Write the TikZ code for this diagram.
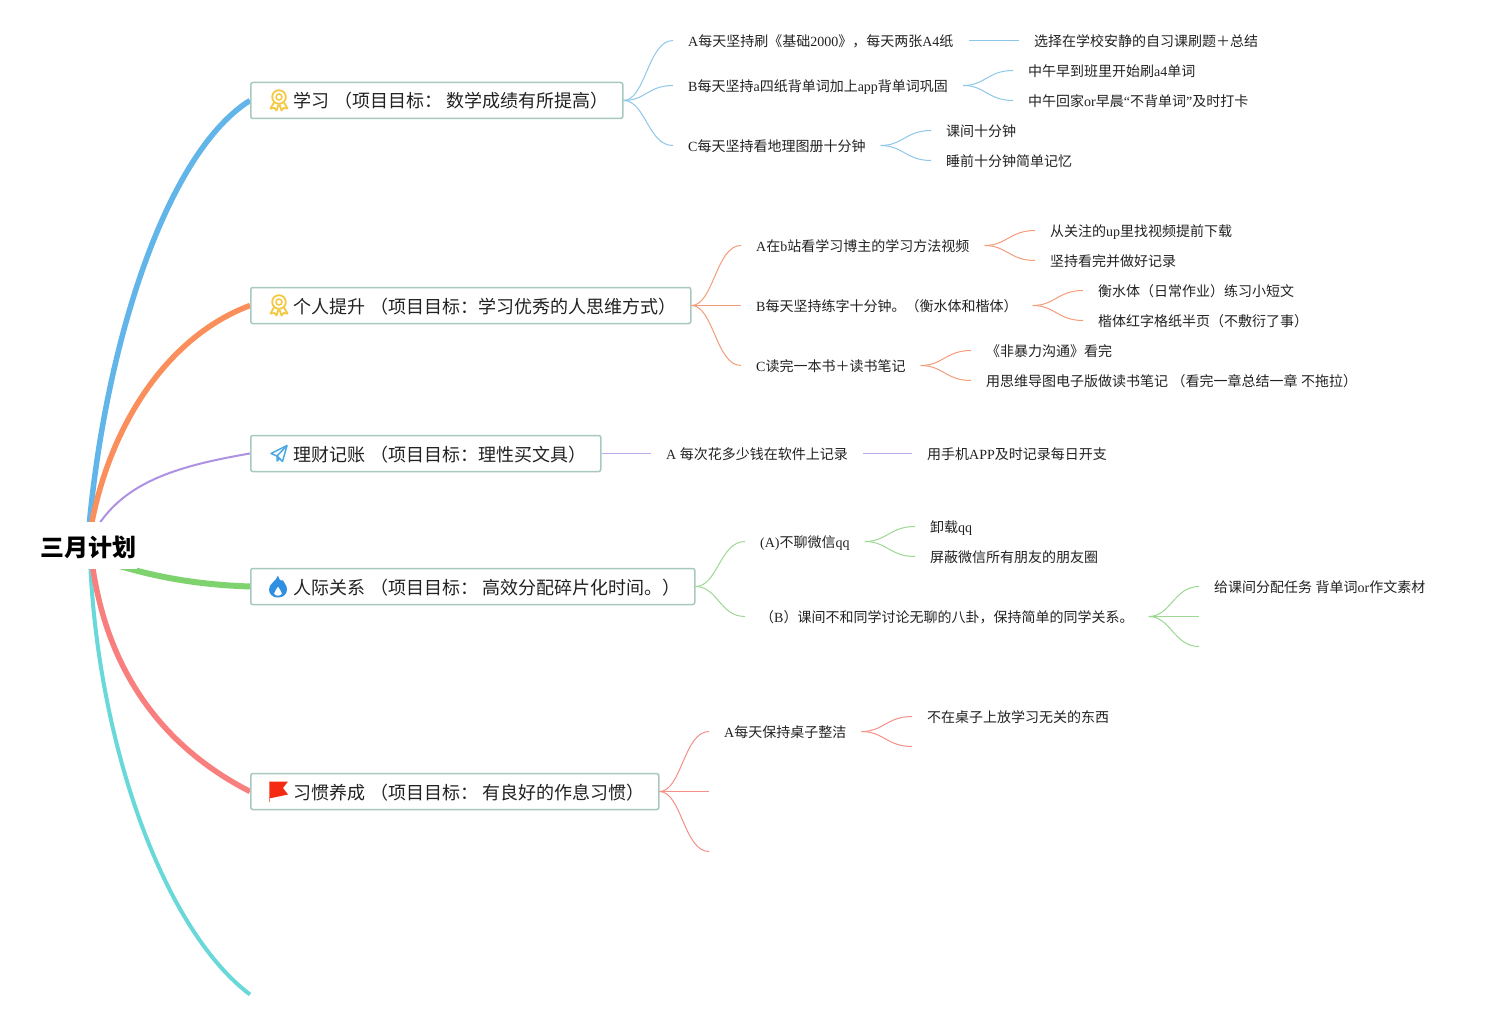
\documentclass[tikz,border=0pt]{standalone}
\usepackage{fontspec}
\usetikzlibrary{backgrounds}
\setmainfont{Liberation Serif}
\newfontfamily\zhf{Noto Sans CJK SC}
\newcommand\zh[1]{{\zhf #1}}
\newcommand\mainlab[2]{\makebox[#1pt][l]{\hspace{43pt}#2}}
\definecolor{cblue}{HTML}{62B5E8}
\definecolor{corange}{HTML}{FB8F5C}
\definecolor{cpurple}{HTML}{AD92E3}
\definecolor{cgreen}{HTML}{7FD36F}
\definecolor{cred}{HTML}{F97F7F}
\definecolor{cteal}{HTML}{69D8D8}
\definecolor{tblue}{HTML}{8EC7E9}
\definecolor{torange}{HTML}{F49C7A}
\definecolor{tpurple}{HTML}{BEAAE8}
\definecolor{tgreen}{HTML}{9CD892}
\definecolor{tred}{HTML}{F49088}
\definecolor{boxline}{HTML}{A7C9BF}
\definecolor{ink}{HTML}{222222}
\definecolor{medal}{HTML}{F5C842}
\definecolor{plane}{HTML}{4BA8E5}
\definecolor{flame}{HTML}{2F8FE0}
\definecolor{flag}{HTML}{F52A12}
\definecolor{flagpole}{HTML}{F57864}
\tikzset{
  x=1pt,y=-1pt,
  lab/.style={anchor=west,inner xsep=15pt,inner ysep=0pt,text height=12.2pt,text depth=0pt,text=ink,font=\fontsize{14}{14}\selectfont},
  mainbox/.style={anchor=west,draw=boxline,line width=1.5pt,rounded corners=2pt,fill=white,inner xsep=0pt,inner ysep=0pt,minimum height=36pt,text height=16pt,text depth=1pt,text=ink,font=\fontsize{18}{18}\selectfont},
  rootnode/.style={inner sep=0pt,fill=white,minimum width=95pt,minimum height=47pt,text height=22pt,text depth=0pt,font=\fontsize{24}{24}\selectfont\bfseries},
  conn/.style={line width=1pt,to path={.. controls +(22,0) and +(-25,0) .. (\tikztotarget)}},
  trunk/.style={line width=5.5pt},
  thintrunk/.style={line width=2pt}
}
\newcommand\medalicon{%
  \draw[line width=1.8pt,medal] (0,-3.5) circle (6.8);
  \draw[line width=1.5pt,medal] (0,-3.5) circle (3);
  \draw[line width=1.8pt,medal,line join=round] (-5,2) -- (-8.5,8) -- (-4.5,7.5) -- (-2.5,10) -- (-0.5,4);
  \draw[line width=1.8pt,medal,line join=round] (5,2) -- (8.5,8) -- (4.5,7.5) -- (2.5,10) -- (0.5,4);
}
\begin{document}
\begin{tikzpicture}
\useasboundingbox (0,0) rectangle (1486,1019);
\begin{scope}[yshift=-0.5pt]
\node[rootnode] (root) at (88.5,545) {\zh{\bfseries 三月计划}};

% main topics
\node[mainbox] (m1) at (250,100) {\mainlab{372}{\zh{学习} \zh{（项目目标：} \zh{数学成绩有所提高）}}};
\node[mainbox] (m2) at (250,305) {\mainlab{440}{\zh{个人提升} \zh{（项目目标：学习优秀的人思维方式）}}};
\node[mainbox] (m3) at (250,453) {\mainlab{350}{\zh{理财记账} \zh{（项目目标：理性买文具）}}};
\node[mainbox] (m4) at (250,586) {\mainlab{444}{\zh{人际关系} \zh{（项目目标：} \zh{高效分配碎片化时间。）}}};
\node[mainbox] (m5) at (250,791) {\mainlab{408}{\zh{习惯养成} \zh{（项目目标：} \zh{有良好的作息习惯）}}};
\coordinate (m6) at (250,994);

% trunks, running under the white root node
\begin{pgfonlayer}{background}
\fill[white] (0,-1) rectangle (1486,1020);
\draw[line width=4pt,cteal] (root.center) -- ([xshift=2pt]root.south) .. controls (100,750) and (165,930) .. (m6);
\draw[trunk,cred] (root.center) -- ([xshift=4.5pt]root.south) .. controls (110,680) and (170,750) .. (m5.west);
\draw[line width=6pt,cgreen] ([yshift=-10pt]root.center) .. controls (140,574) and (190,584) .. (m4.west);
\draw[trunk,cblue] (root.center) -- ([xshift=1pt]root.north) .. controls (108,330) and (170,150) .. (m1.west);
\draw[trunk,corange] (root.center) -- ([xshift=3.5pt]root.north) .. controls (112,420) and (170,335) .. (m2.west);
\draw[thintrunk,cpurple] (root.center) -- ([xshift=12pt]root.north) .. controls (130,480) and (180,465) .. (m3.west);
\end{pgfonlayer}

% icons
\begin{scope}[shift={(279,100)}]
  \medalicon
\end{scope}
\begin{scope}[shift={(279,305)}]
  \medalicon
\end{scope}
\begin{scope}[shift={(279,453)}]
  \draw[line width=1.5pt,plane,line join=round] (-8,0) -- (8,-8) -- (3.5,8) -- (-2,2.5) -- cycle;
  \draw[line width=1.5pt,plane,line join=round] (8,-8) -- (-2,2.5) -- (-2,7.5) -- (1,4.5);
\end{scope}
\begin{scope}[shift={(278,586)}]
  \fill[even odd rule,flame] (0,-11) .. controls (1,-6) and (4,-5) .. (5,-6) .. controls (6,-4) and (9,-1) .. (9,3) .. controls (9,8) and (5,11) .. (0,11) .. controls (-5,11) and (-9,8) .. (-9,3) .. controls (-9,-3) and (-2,-5) .. (0,-11) -- cycle
  (0,0) .. controls (1,3) and (4,4) .. (4,7) .. controls (4,10) and (-4,10) .. (-4,7) .. controls (-4,4) and (-1,3) .. (0,0) -- cycle;
\end{scope}
\begin{scope}[shift={(278,791)}]
  \fill[flag] (-9,-10) -- (10,-10) -- (5,-3.5) -- (10,3) -- (-9,7) -- cycle;
  \draw[line width=1pt,flagpole] (-9,-10) -- (-9,10);
\end{scope}

% branch 1
\node[lab] (a1) at (673,40) {A\zh{每天坚持刷《基础}2000\zh{》，每天两张}A4\zh{纸}};
\node[lab] (a2) at (673,85) {B\zh{每天坚持}a\zh{四纸背单词加上}app\zh{背单词巩固}};
\node[lab] (a3) at (673,145) {C\zh{每天坚持看地理图册十分钟}};
\node[lab] (a11) at (1019,40) {\zh{选择在学校安静的自习课刷题＋总结}};
\node[lab] (a21) at (1013,70) {\zh{中午早到班里开始刷}a4\zh{单词}};
\node[lab] (a22) at (1013,100) {\zh{中午回家}or\zh{早晨}“\zh{不背单词}”\zh{及时打卡}};
\node[lab] (a31) at (931,130) {\zh{课间十分钟}};
\node[lab] (a32) at (931,160) {\zh{睡前十分钟简单记忆}};
\foreach \s/\t in {m1.east/a1.west,m1.east/a2.west,m1.east/a3.west,a1.east/a11.west,a2.east/a21.west,a2.east/a22.west,a3.east/a31.west,a3.east/a32.west}
  \draw[conn,tblue] (\s) to (\t);

% branch 2
\node[lab] (b1) at (741,245) {A\zh{在}b\zh{站看学习博主的学习方法视频}};
\node[lab] (b2) at (741,305) {B\zh{每天坚持练字十分钟。（衡水体和楷体）}};
\node[lab] (b3) at (741,365) {C\zh{读完一本书＋读书笔记}};
\node[lab] (b11) at (1035,230) {\zh{从关注的}up\zh{里找视频提前下载}};
\node[lab] (b12) at (1035,260) {\zh{坚持看完并做好记录}};
\node[lab] (b21) at (1083,290) {\zh{衡水体（日常作业）练习小短文}};
\node[lab] (b22) at (1083,320) {\zh{楷体红字格纸半页（不敷衍了事）}};
\node[lab] (b31) at (971,350) {\zh{《非暴力沟通》看完}};
\node[lab] (b32) at (971,380) {\zh{用思维导图电子版做读书笔记} \zh{（看完一章总结一章} \zh{不拖拉）}};
\foreach \s/\t in {m2.east/b1.west,m2.east/b2.west,m2.east/b3.west,b1.east/b11.west,b1.east/b12.west,b2.east/b21.west,b2.east/b22.west,b3.east/b31.west,b3.east/b32.west}
  \draw[conn,torange] (\s) to (\t);

% branch 3
\node[lab] (c1) at (651,453) {A \zh{每次花多少钱在软件上记录}};
\node[lab] (c11) at (912,453) {\zh{用手机}APP\zh{及时记录每日开支}};
\foreach \s/\t in {m3.east/c1.west,c1.east/c11.west}
  \draw[conn,tpurple] (\s) to (\t);

% branch 4
\node[lab] (d1) at (745,541) {(A)\zh{不聊微信}qq};
\node[lab] (d2) at (745,616) {\zh{（}B\zh{）课间不和同学讨论无聊的八卦，保持简单的同学关系。}};
\node[lab] (d11) at (915,526) {\zh{卸载}qq};
\node[lab] (d12) at (915,556) {\zh{屏蔽微信所有朋友的朋友圈}};
\node[lab] (d21) at (1199,586) {\zh{给课间分配任务} \zh{背单词}or\zh{作文素材}};
\coordinate (d22) at (1199,616);
\coordinate (d23) at (1199,646);
\foreach \s/\t in {m4.east/d1.west,m4.east/d2.west,d1.east/d11.west,d1.east/d12.west,d2.east/d21.west,d2.east/d22,d2.east/d23}
  \draw[conn,tgreen] (\s) to (\t);

% branch 5
\node[lab] (e1) at (709,731) {A\zh{每天保持桌子整洁}};
\coordinate (e2) at (709,791);
\coordinate (e3) at (709,851);
\node[lab] (e11) at (912,716) {\zh{不在桌子上放学习无关的东西}};
\coordinate (e12) at (912,746);
\foreach \s/\t in {m5.east/e1.west,m5.east/e2,m5.east/e3,e1.east/e11.west,e1.east/e12}
  \draw[conn,tred] (\s) to (\t);
\end{scope}
\end{tikzpicture}
\end{document}
